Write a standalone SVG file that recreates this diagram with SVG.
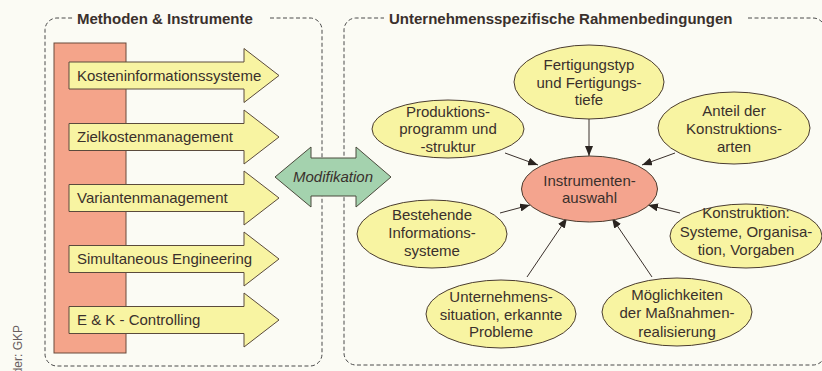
<svg xmlns="http://www.w3.org/2000/svg" width="822" height="371" viewBox="0 0 822 371">
<style>
  .bg{fill:#fbfbf4}
  .frame{fill:none;stroke:#4a4a4a;stroke-width:1;stroke-dasharray:4 2.5}
  .title{font-family:"Liberation Sans",Arial,sans-serif;font-weight:bold;font-size:15px;fill:#3a302c}
  .t{font-family:"Liberation Sans",Arial,sans-serif;font-size:15px;fill:#3a302c}
  .tc{font-family:"Liberation Sans",Arial,sans-serif;font-size:15px;fill:#3a302c;text-anchor:middle}
  .arrow{fill:#f8f4a2;stroke:#5a4a3c;stroke-width:1}
  .yel{fill:#f8f4a2;stroke:#4a3c30;stroke-width:1}
  .red{fill:#f4a48e;stroke:#4a3c30;stroke-width:1}
  .conn{stroke:#3a302c;stroke-width:1;fill:none;marker-end:url(#ah)}
</style>
<defs>
  <marker id="ah" viewBox="0 0 10 8" refX="10" refY="4" markerWidth="10" markerHeight="8" markerUnits="userSpaceOnUse" orient="auto">
    <path d="M0,0 L10,4 L0,8 Z" fill="#2a2420"/>
  </marker>
</defs>
<rect class="bg" x="0" y="0" width="822" height="371"/>

<g id="left-frame">
  <path class="frame" d="M270,18 H310 A12,12 0 0 1 322,30 V354 A12,12 0 0 1 310,366 H57 A12,12 0 0 1 45,354 V30 A12,12 0 0 1 57,18 H73"/>
  <text class="title" x="77" y="24">Methoden &amp; Instrumente</text>
</g>
<g id="right-frame">
  <path class="frame" d="M748,18 H813 A12,12 0 0 1 825,30 V353 A12,12 0 0 1 813,365 H356 A12,12 0 0 1 344,353 V30 A12,12 0 0 1 356,18 H384"/>
  <text class="title" x="389" y="24">Unternehmensspezifische Rahmenbedingungen</text>
</g>

<g id="bar">
  <rect x="54" y="43" width="72" height="310" fill="#f4a48a" stroke="#6a4a3a" stroke-width="1"/>
</g>

<g id="m1" transform="translate(0,75.5)">
  <polygon class="arrow" points="69,-13.5 244,-13.5 244,-27 279,0 244,27 244,13.5 69,13.5"/>
  <text class="t" x="77" y="5">Kosteninformationssysteme</text>
</g>
<g id="m2" transform="translate(0,137)">
  <polygon class="arrow" points="69,-13.5 244,-13.5 244,-27 279,0 244,27 244,13.5 69,13.5"/>
  <text class="t" x="77" y="5">Zielkostenmanagement</text>
</g>
<g id="m3" transform="translate(0,198)">
  <polygon class="arrow" points="69,-13.5 244,-13.5 244,-27 279,0 244,27 244,13.5 69,13.5"/>
  <text class="t" x="77" y="5">Variantenmanagement</text>
</g>
<g id="m4" transform="translate(0,259)">
  <polygon class="arrow" points="69,-13.5 244,-13.5 244,-27 279,0 244,27 244,13.5 69,13.5"/>
  <text class="t" x="77" y="5">Simultaneous Engineering</text>
</g>
<g id="m5" transform="translate(0,320)">
  <polygon class="arrow" points="69,-13.5 244,-13.5 244,-27 279,0 244,27 244,13.5 69,13.5"/>
  <text class="t" x="77" y="5">E &amp; K - Controlling</text>
</g>

<g id="modifikation">
  <polygon points="275,177 311,147 311,158 356,158 356,147 391,177 356,207 356,196 311,196 311,207" fill="#a4d2ae" stroke="#4a4a3c" stroke-width="1"/>
  <text x="333" y="182" font-family="'Liberation Sans',Arial,sans-serif" font-size="15" font-style="italic" fill="#3a302c" text-anchor="middle">Modifikation</text>
</g>

<g id="connectors">
  <line class="conn" x1="589" y1="119" x2="589" y2="156"/>
  <line class="conn" x1="505" y1="153" x2="538" y2="165"/>
  <line class="conn" x1="675" y1="153" x2="642" y2="165"/>
  <line class="conn" x1="500" y1="213" x2="530" y2="205"/>
  <line class="conn" x1="680" y1="213" x2="648" y2="205"/>
  <line class="conn" x1="527" y1="277" x2="567" y2="218"/>
  <line class="conn" x1="652" y1="277" x2="612" y2="218"/>
</g>

<g id="center">
  <ellipse class="red" cx="589.5" cy="189" rx="68" ry="33"/>
  <text class="tc" x="589.5" y="186">Instrumenten-</text>
  <text class="tc" x="589.5" y="203">auswahl</text>
</g>
<g id="fertigung">
  <ellipse class="yel" cx="589" cy="82" rx="75" ry="37"/>
  <text class="tc" x="589" y="70">Fertigungstyp</text>
  <text class="tc" x="589" y="88">und Fertigungs-</text>
  <text class="tc" x="589" y="105">tiefe</text>
</g>
<g id="produktion">
  <ellipse class="yel" cx="448" cy="129" rx="76" ry="29"/>
  <text class="tc" x="448" y="117">Produktions-</text>
  <text class="tc" x="448" y="134">programm und</text>
  <text class="tc" x="448" y="152">-struktur</text>
</g>
<g id="anteil">
  <ellipse class="yel" cx="734" cy="128" rx="76" ry="36"/>
  <text class="tc" x="734" y="116">Anteil der</text>
  <text class="tc" x="734" y="134">Konstruktions-</text>
  <text class="tc" x="734" y="152">arten</text>
</g>
<g id="bestehende">
  <ellipse class="yel" cx="432" cy="234" rx="75" ry="34"/>
  <text class="tc" x="432" y="220">Bestehende</text>
  <text class="tc" x="432" y="238">Informations-</text>
  <text class="tc" x="432" y="256">systeme</text>
</g>
<g id="konstruktion">
  <ellipse class="yel" cx="746" cy="236" rx="76" ry="32"/>
  <text class="tc" x="746" y="218">Konstruktion:</text>
  <text class="tc" x="746" y="237">Systeme, Organisa-</text>
  <text class="tc" x="746" y="255">tion, Vorgaben</text>
</g>
<g id="situation">
  <ellipse class="yel" cx="501" cy="314" rx="75" ry="34"/>
  <text class="tc" x="501" y="302">Unternehmens-</text>
  <text class="tc" x="501" y="320">situation, erkannte</text>
  <text class="tc" x="501" y="337">Probleme</text>
</g>
<g id="moeglichkeiten">
  <ellipse class="yel" cx="677" cy="312" rx="75" ry="34"/>
  <text class="tc" x="677" y="300">Möglichkeiten</text>
  <text class="tc" x="677" y="318">der Maßnahmen-</text>
  <text class="tc" x="677" y="337">realisierung</text>
</g>

<text transform="translate(22,325) rotate(-90)" font-family="'Liberation Sans',Arial,sans-serif" font-size="12" fill="#6a6060" text-anchor="end">der: GKP</text>
</svg>
